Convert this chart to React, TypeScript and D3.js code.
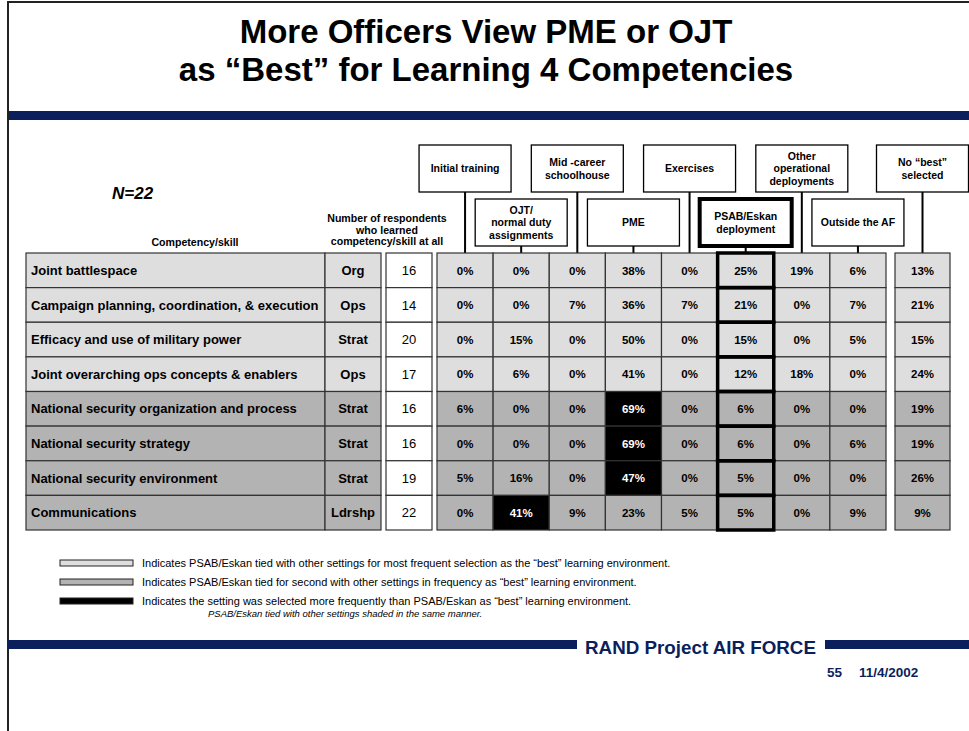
import React from "react";
import * as d3 from "d3";

const competencies = [
  "Joint battlespace",
  "Campaign planning, coordination, & execution",
  "Efficacy and use of military power",
  "Joint overarching ops concepts & enablers",
  "National security organization and process",
  "National security strategy",
  "National security environment",
  "Communications",
];
const categories = ["Org", "Ops", "Strat", "Ops", "Strat", "Strat", "Strat", "Ldrshp"];
const respondents = [16, 14, 20, 17, 16, 16, 19, 22];
const settings = [
  ["Initial training"],
  ["OJT/", "normal duty", "assignments"],
  ["Mid -career", "schoolhouse"],
  ["PME"],
  ["Exercises"],
  ["PSAB/Eskan", "deployment"],
  ["Other", "operational", "deployments"],
  ["Outside the AF"],
  ["No \u201cbest\u201d", "selected"],
];
const initialTraining = [0, 0, 0, 0, 6, 0, 5, 0];
const ojt = [0, 0, 15, 6, 0, 0, 16, 41];
const midCareer = [0, 7, 0, 0, 0, 0, 0, 9];
const pme = [38, 36, 50, 41, 69, 69, 47, 23];
const exercises = [0, 7, 0, 0, 0, 0, 0, 5];
const psab = [25, 21, 15, 12, 6, 6, 5, 5];
const otherOps = [19, 0, 0, 18, 0, 0, 0, 0];
const outsideAF = [6, 7, 5, 0, 0, 6, 0, 9];
const noBest = [13, 21, 15, 24, 19, 19, 26, 9];
const seriesValues = [initialTraining, ojt, midCareer, pme, exercises, psab, otherOps, outsideAF, noBest];
// shading tier per row: 1 = tied for most frequent, 2 = tied for second
const rowTier = [1, 1, 1, 1, 2, 2, 2, 2];
// cells selected more often than PSAB/Eskan: [row, setting]
const blackCells = [[4, 3], [5, 3], [6, 3], [7, 1]];
const titleLines = ["More Officers View PME or OJT", "as \u201cBest\u201d for Learning 4 Competencies"];
const respondentsHeader = ["Number of respondents", "who learned", "competency/skill at all"];
const legendItems = [
  "Indicates PSAB/Eskan tied with other settings for most frequent selection as the \u201cbest\u201d learning environment.",
  "Indicates PSAB/Eskan tied for second with other settings in frequency as \u201cbest\u201d learning environment.",
  "Indicates the setting was selected more frequently than PSAB/Eskan as \u201cbest\u201d learning environment.",
];
const legendNote = "PSAB/Eskan tied with other settings shaded in the same manner.";

const FONT = "'Liberation Sans', Arial, Helvetica, sans-serif";
const NAVY = "#0b1f5c";
const LIGHT = "#dedede";
const MID = "#b3b3b3";
const LINE = "#333";

export default function App() {
  const W = 969, H = 731;
  const rows = d3.scaleBand<number>().domain(d3.range(8)).range([253, 530]);
  const cols = d3.scaleBand<number>().domain(d3.range(8)).range([437, 886]);
  const nbX0 = 895, nbX1 = 950;
  const colX = (j: number) => (j < 8 ? cols(j)! : nbX0);
  const colW = (j: number) => (j < 8 ? cols.bandwidth() : nbX1 - nbX0);
  const colC = (j: number) => colX(j) + colW(j) / 2;
  const isBlack = (r: number, c: number) => blackCells.some(([a, b]) => a === r && b === c);
  const tierFill = (r: number) => (rowTier[r] === 1 ? LIGHT : MID);
  const rh = rows.bandwidth();

  const boxW = 92;
  const topY0 = 145, topY1 = 192, botY0 = 199, botY1 = 246;

  return (
    <svg width={W} height={H} style={{ display: "block", position: "absolute", left: 0, top: 0, background: "#fff" }} fontFamily={FONT}>
      <rect x={0} y={0} width={W} height={H} fill="#fff" />
      <path d={`M8,${H} L8,2 L${W},2`} fill="none" stroke="#222" strokeWidth={2} />
      {titleLines.map((t, i) => (
        <text key={t} x={486} y={43 + i * 38} textAnchor="middle" fontSize={33} fontWeight="bold">{t}</text>
      ))}
      <rect x={9} y={111} width={W - 9} height={9} fill={NAVY} />

      <text x={112} y={199} fontSize={17} fontWeight="bold" fontStyle="italic">N=22</text>
      <text x={195} y={245.5} textAnchor="middle" fontSize={10.6} fontWeight="bold">Competency/skill</text>
      {respondentsHeader.map((t, i) => (
        <text key={t} x={387} y={222 + i * 11.7} textAnchor="middle" fontSize={10.6} fontWeight="bold">{t}</text>
      ))}

      {/* header boxes and connectors */}
      {settings.map((lines, j) => {
        const top = j % 2 === 0;
        const y0 = top ? topY0 : botY0;
        const y1 = top ? topY1 : botY1;
        const cx = colC(j);
        const thick = j === 5;
        const lh = 12.8;
        const mid = (y0 + y1) / 2;
        return (
          <g key={j}>
            <line x1={cx} x2={cx} y1={y1} y2={253} stroke="#000" strokeWidth={2} />
            <rect x={cx - boxW / 2} y={y0} width={boxW} height={y1 - y0} fill="#fff" stroke="#000" strokeWidth={thick ? 4 : 1.3} />
            {lines.map((t, k) => (
              <text key={k} x={cx} y={mid + (k - (lines.length - 1) / 2) * lh + 3.8} textAnchor="middle" fontSize={10.5} fontWeight="bold">{t}</text>
            ))}
          </g>
        );
      })}

      {/* table rows */}
      {competencies.map((c, r) => {
        const y = rows(r)!;
        return (
          <g key={c}>
            <rect x={26} y={y} width={299} height={rh} fill={tierFill(r)} stroke={LINE} strokeWidth={1.2} />
            <text x={31} y={y + rh / 2 + 4.6} fontSize={13} fontWeight="bold">{c}</text>
            <rect x={325} y={y} width={56} height={rh} fill={tierFill(r)} stroke={LINE} strokeWidth={1.2} />
            <text x={353} y={y + rh / 2 + 4.6} textAnchor="middle" fontSize={13} fontWeight="bold">{categories[r]}</text>
            <rect x={386} y={y} width={46} height={rh} fill="#fff" stroke={LINE} strokeWidth={1.2} />
            <text x={409} y={y + rh / 2 + 4.6} textAnchor="middle" fontSize={13}>{respondents[r]}</text>
            {seriesValues.map((vals, j) => {
              const blk = isBlack(r, j);
              return (
                <g key={j}>
                  <rect x={colX(j)} y={y} width={colW(j)} height={rh} fill={blk ? "#000" : tierFill(r)} stroke={LINE} strokeWidth={1.2} />
                  <text x={colC(j)} y={y + rh / 2 + 4.2} textAnchor="middle" fontSize={11.5} fontWeight="bold" fill={blk ? "#fff" : "#000"}>{vals[r]}%</text>
                </g>
              );
            })}
          </g>
        );
      })}
      {/* PSAB thick column */}
      {competencies.map((c, r) => (
        <rect key={"p" + r} x={colX(5)} y={rows(r)!} width={colW(5)} height={rh} fill="none" stroke="#000" strokeWidth={3.5} />
      ))}

      {/* legend */}
      {legendItems.map((t, i) => {
        const y = 563 + i * 19;
        const fill = i === 0 ? LIGHT : i === 1 ? MID : "#000";
        return (
          <g key={i}>
            <rect x={60} y={y - 3} width={73} height={6} fill={fill} stroke="#222" strokeWidth={1} />
            <text x={142} y={y + 3.7} fontSize={11}>{t}</text>
          </g>
        );
      })}
      <text x={208} y={617} fontSize={9.5} fontStyle="italic">{legendNote}</text>

      {/* footer */}
      <rect x={8} y={640} width={569} height={9} fill={NAVY} />
      <rect x={825} y={640} width={W - 825} height={9} fill={NAVY} />
      <text x={585} y={654} fontSize={18.8} fontWeight="bold" fill={NAVY}>RAND Project AIR FORCE</text>
      <text x={827} y={677} fontSize={13.5} fontWeight="bold" fill={NAVY}>55</text>
      <text x={859} y={677} fontSize={13.5} fontWeight="bold" fill={NAVY}>11/4/2002</text>
    </svg>
  );
}
